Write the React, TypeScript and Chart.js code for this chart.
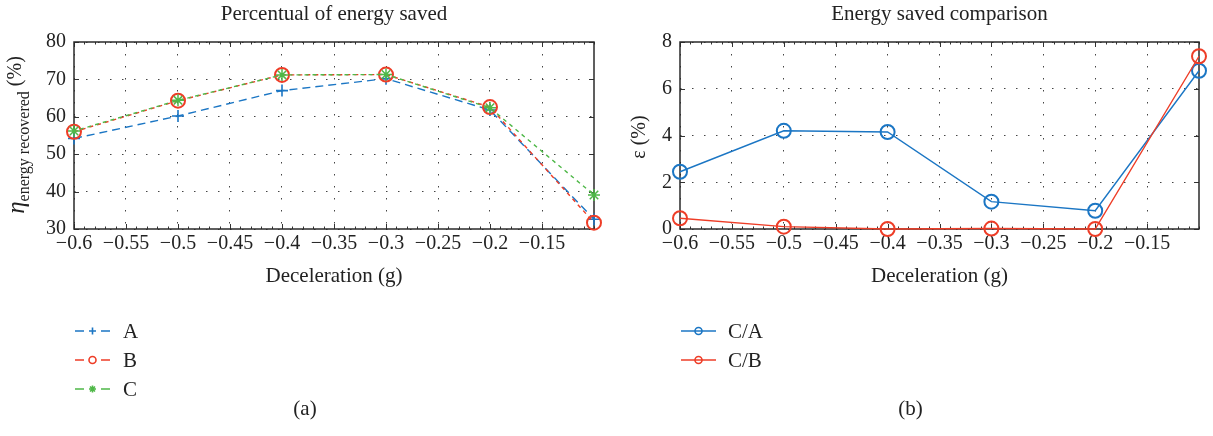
import React, { useEffect, useRef } from "react";
import { Chart, registerables } from "chart.js";

Chart.register(...registerables);

// ---------- data ----------
const deceleration = [-0.6, -0.5, -0.4, -0.3, -0.2, -0.1];
const seriesA = [54.2, 60.2, 67.0, 70.2, 61.8, 32.6];
const seriesB = [56.0, 64.3, 71.2, 71.3, 62.6, 31.7];
const seriesC = [56.2, 64.4, 71.2, 71.3, 62.4, 39.1];
const seriesCA = [2.45, 4.2, 4.15, 1.17, 0.78, 6.77];
const seriesCB = [0.46, 0.1, 0.0, 0.02, 0.0, 7.39];
const xTickValues = [-0.6, -0.55, -0.5, -0.45, -0.4, -0.35, -0.3, -0.25, -0.2, -0.15];
const leftYTicks = [30, 40, 50, 60, 70, 80];
const rightYTicks = [0, 2, 4, 6, 8];
const leftTitle = "Percentual of energy saved";
const rightTitle = "Energy saved comparison";
const xTitle = "Deceleration (g)";

// ---------- style ----------
const BLUE = "#1b76c4";
const RED = "#ee3d27";
const GREEN = "#4fb848";
const FONT = '"Liberation Serif", "Times New Roman", serif';
const W = 1213;
const H = 436;
const TOP = 42;
const BOTTOM = 229;

const fmt = (v: number) => {
  const s = String(parseFloat(Math.abs(v).toFixed(3)));
  return v < 0 ? "\u2212" + s : s;
};

type LegendItem = { label: string; color: string; marker: string };

function drawMarker(ctx: CanvasRenderingContext2D, kind: string, x: number, y: number, r: number, color: string) {
  ctx.save();
  ctx.strokeStyle = color;
  ctx.lineWidth = 1.6;
  ctx.setLineDash([]);
  ctx.beginPath();
  if (kind === "cross") {
    ctx.moveTo(x - r, y); ctx.lineTo(x + r, y);
    ctx.moveTo(x, y - r); ctx.lineTo(x, y + r);
  } else if (kind === "circle") {
    ctx.arc(x, y, r, 0, Math.PI * 2);
  } else if (kind === "star") {
    for (let k = 0; k < 4; k++) {
      const a = (k * Math.PI) / 4;
      ctx.moveTo(x - r * Math.cos(a), y - r * Math.sin(a));
      ctx.lineTo(x + r * Math.cos(a), y + r * Math.sin(a));
    }
  }
  ctx.stroke();
  ctx.restore();
}

function makeDecor(opts: {
  title: string;
  drawYLabel: (ctx: CanvasRenderingContext2D) => void;
  legend: LegendItem[];
  legendLine: boolean;
  caption: string;
}) {
  return {
    id: "decor",
    beforeDatasetsDraw(chart: any) {
      const ctx: CanvasRenderingContext2D = chart.ctx;
      const { left, right, top, bottom } = chart.chartArea;
      const xs = chart.scales.x;
      const ys = chart.scales.y;
      ctx.save();
      ctx.strokeStyle = "#333";
      ctx.lineWidth = 1;
      ctx.setLineDash([]);
      ctx.beginPath();
      xTickValues.forEach((v) => {
        const px = Math.round(xs.getPixelForValue(v)) + 0.5;
        ctx.moveTo(px, bottom); ctx.lineTo(px, bottom - 5);
        ctx.moveTo(px, top); ctx.lineTo(px, top + 5);
      });
      for (let k = 0; k <= 50; k++) {
        const v = -0.6 + k * 0.01;
        const px = Math.round(xs.getPixelForValue(v)) + 0.5;
        ctx.moveTo(px, bottom); ctx.lineTo(px, bottom - 2.5);
        ctx.moveTo(px, top); ctx.lineTo(px, top + 2.5);
      }
      ys.ticks.forEach((t: any) => {
        const py = Math.round(ys.getPixelForValue(t.value)) + 0.5;
        ctx.moveTo(left, py); ctx.lineTo(left + 5, py);
        ctx.moveTo(right, py); ctx.lineTo(right - 5, py);
      });
      ctx.stroke();
      ctx.strokeStyle = "#2a2a2a";
      ctx.lineWidth = 1.5;
      ctx.strokeRect(left, top, right - left, bottom - top);
      ctx.restore();
    },
    afterDraw(chart: any) {
      const ctx: CanvasRenderingContext2D = chart.ctx;
      const { left, right } = chart.chartArea;
      const cx = (left + right) / 2;
      ctx.save();
      ctx.fillStyle = "#222";
      ctx.textAlign = "center";
      ctx.textBaseline = "middle";
      ctx.font = `21px ${FONT}`;
      ctx.fillText(opts.title, cx, 14);
      ctx.fillText(xTitle, cx, 276);
      ctx.fillText(opts.caption, cx - 29, 409);
      opts.drawYLabel(ctx);
      opts.legend.forEach((item, i) => {
        const y = 331 + i * 29;
        const x0 = left + 1;
        const x1 = left + 36;
        ctx.save();
        ctx.strokeStyle = item.color;
        ctx.lineWidth = 1.6;
        ctx.setLineDash(opts.legendLine ? [] : [9, 17]);
        ctx.beginPath();
        ctx.moveTo(x0, y);
        ctx.lineTo(x1, y);
        ctx.stroke();
        ctx.restore();
        drawMarker(ctx, item.marker, (x0 + x1) / 2, y, 3.5, item.color);
        ctx.textAlign = "left";
        ctx.fillStyle = "#222";
        ctx.font = `21px ${FONT}`;
        ctx.fillText(item.label, left + (opts.legendLine ? 48 : 49), y + 1);
      });
      ctx.restore();
    },
  };
}

function baseOptions(yTicks: number[], yMin: number, yMax: number, rightPad: number): any {
  return {
    animation: false,
    responsive: false,
    maintainAspectRatio: false,
    devicePixelRatio: 1,
    layout: { padding: { left: 0, right: rightPad, top: TOP, bottom: 0 } },
    plugins: {
      legend: { display: false },
      title: { display: false },
      tooltip: { enabled: false },
    },
    scales: {
      x: {
        type: "linear",
        min: -0.6,
        max: -0.1,
        afterBuildTicks: (s: any) => {
          s.ticks = xTickValues.map((v) => ({ value: v }));
        },
        afterFit: (s: any) => {
          s.height = H - BOTTOM;
        },
        ticks: {
          callback: (v: number) => fmt(v),
          font: { family: FONT, size: 20 },
          color: "#222",
          padding: 3,
          maxRotation: 0,
          autoSkip: false,
        },
        grid: { color: "#444", lineWidth: 1, drawTicks: false },
        border: { display: false, dash: [1.5, 10.5] },
      },
      y: {
        type: "linear",
        min: yMin,
        max: yMax,
        afterBuildTicks: (s: any) => {
          s.ticks = yTicks.map((v) => ({ value: v }));
        },
        afterFit: (s: any) => {
          s.width = 74;
        },
        ticks: {
          callback: (v: number) => fmt(v),
          font: { family: FONT, size: 20 },
          color: "#222",
          padding: 8,
          autoSkip: false,
        },
        grid: { color: "#444", lineWidth: 1, drawTicks: false },
        border: { display: false, dash: [1.5, 10.5] },
      },
    },
  };
}

const pts = (ys: number[]) => deceleration.map((x, i) => ({ x, y: ys[i] }));

function leftConfig(): any {
  const common = { fill: false, clip: false, borderWidth: 1.4, tension: 0, pointHoverRadius: 0 };
  return {
    type: "line",
    data: {
      datasets: [
        {
          ...common,
          label: "C",
          data: pts(seriesC),
          borderColor: GREEN,
          borderDash: [4, 4],
          borderDashOffset: 2,
          pointStyle: "star",
          pointRadius: 6,
          pointBorderWidth: 1.5,
          pointBorderColor: GREEN,
          pointBackgroundColor: GREEN,
          order: 0,
        },
        {
          ...common,
          label: "B",
          data: pts(seriesB),
          borderColor: RED,
          borderDash: [4, 4],
          pointStyle: "circle",
          pointRadius: 7,
          pointBorderWidth: 2,
          pointBorderColor: RED,
          pointBackgroundColor: "rgba(0,0,0,0)",
          order: 1,
        },
        {
          ...common,
          label: "A",
          data: pts(seriesA),
          borderColor: BLUE,
          borderDash: [8, 5],
          pointStyle: "cross",
          pointRadius: 6,
          pointBorderWidth: 1.6,
          pointBorderColor: BLUE,
          pointBackgroundColor: BLUE,
          order: 2,
        },
      ],
    },
    options: baseOptions(leftYTicks, 30, 80, 12),
    plugins: [
      makeDecor({
        title: leftTitle,
        legend: [
          { label: "A", color: BLUE, marker: "cross" },
          { label: "B", color: RED, marker: "circle" },
          { label: "C", color: GREEN, marker: "star" },
        ],
        legendLine: false,
        caption: "(a)",
        drawYLabel: (ctx) => {
          ctx.save();
          ctx.translate(22, 135);
          ctx.rotate(-Math.PI / 2);
          ctx.fillStyle = "#222";
          ctx.textBaseline = "alphabetic";
          ctx.textAlign = "left";
          const f1 = `italic 25px ${FONT}`;
          const f2 = `16px ${FONT}`;
          const f3 = `20px ${FONT}`;
          ctx.font = f1;
          const w1 = ctx.measureText("\u03b7").width;
          ctx.font = f2;
          const w2 = ctx.measureText("energy recovered").width;
          ctx.font = f3;
          const w3 = ctx.measureText(" (%)").width;
          let x = -(w1 + w2 + w3) / 2;
          ctx.font = f1;
          ctx.fillText("\u03b7", x, 2);
          x += w1;
          ctx.font = f2;
          ctx.fillText("energy recovered", x, 7);
          x += w2;
          ctx.font = f3;
          ctx.fillText(" (%)", x, -1);
          ctx.restore();
        },
      }),
    ],
  };
}

function rightConfig(): any {
  const common = {
    fill: false,
    clip: false,
    borderWidth: 1.4,
    tension: 0,
    pointHoverRadius: 0,
    pointStyle: "circle",
    pointRadius: 7,
    pointBorderWidth: 2,
    pointBackgroundColor: "rgba(0,0,0,0)",
  };
  return {
    type: "line",
    data: {
      datasets: [
        { ...common, label: "C/A", data: pts(seriesCA), borderColor: BLUE, pointBorderColor: BLUE, order: 1 },
        { ...common, label: "C/B", data: pts(seriesCB), borderColor: RED, pointBorderColor: RED, order: 0 },
      ],
    },
    options: baseOptions(rightYTicks, 0, 8, 14),
    plugins: [
      makeDecor({
        title: rightTitle,
        legend: [
          { label: "C/A", color: BLUE, marker: "circle" },
          { label: "C/B", color: RED, marker: "circle" },
        ],
        legendLine: true,
        caption: "(b)",
        drawYLabel: (ctx) => {
          ctx.save();
          ctx.translate(34, 137);
          ctx.rotate(-Math.PI / 2);
          ctx.fillStyle = "#222";
          ctx.textAlign = "center";
          ctx.textBaseline = "middle";
          ctx.font = `20px ${FONT}`;
          ctx.fillText("\u03b5 (%)", 0, 0);
          ctx.restore();
        },
      }),
    ],
  };
}

function Panel({ left, width, make }: { left: number; width: number; make: () => any }) {
  const ref = useRef<HTMLCanvasElement | null>(null);
  useEffect(() => {
    if (!ref.current) return;
    const chart = new Chart(ref.current, make());
    return () => chart.destroy();
  }, [make]);
  return (
    <canvas
      ref={ref}
      width={width}
      height={H}
      style={{ position: "absolute", left, top: 0, width, height: H, display: "block" }}
    />
  );
}

export default function App() {
  return (
    <div style={{ position: "fixed", left: 0, top: 0, width: W, height: H, background: "#fff" }}>
      <Panel left={0} width={606} make={leftConfig} />
      <Panel left={606} width={607} make={rightConfig} />
    </div>
  );
}
